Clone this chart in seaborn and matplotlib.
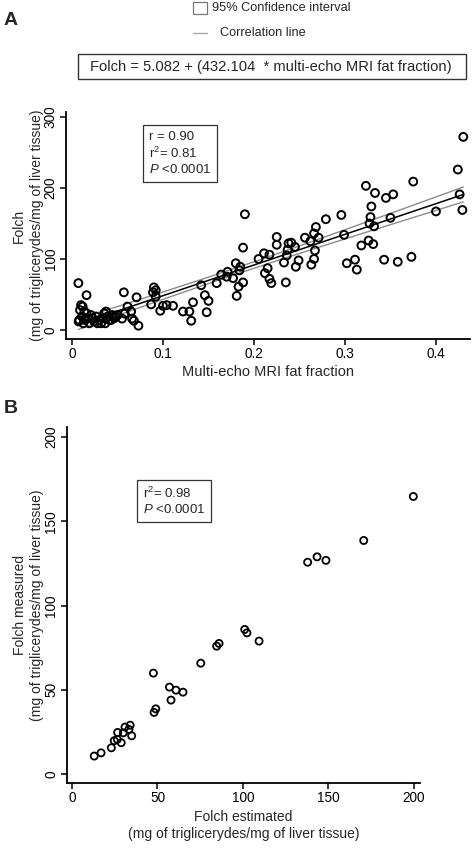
import numpy as np
import matplotlib
matplotlib.use("Agg")
import matplotlib.pyplot as plt
import seaborn as sns
from matplotlib.patches import Rectangle
from matplotlib.lines import Line2D

# panel A: multi-echo MRI fat fraction vs Folch
mri_ff = [
    0.007, 0.016, 0.0099, 0.0117, 0.0088, 0.0136, 0.0161, 0.011, 0.008, 0.0143,
    0.0172, 0.0209, 0.0227, 0.0264, 0.0073, 0.0125, 0.019, 0.0245, 0.028, 0.030,
    0.0337, 0.0355, 0.0374, 0.0392, 0.041, 0.0319, 0.0366, 0.0429, 0.0447, 0.0465,
    0.0484, 0.050,
    0.055, 0.057, 0.058, 0.061, 0.065, 0.066, 0.068, 0.071, 0.073, 0.087,
    0.089, 0.090, 0.092, 0.092, 0.097, 0.100, 0.104, 0.111, 0.122, 0.129,
    0.131, 0.133, 0.142, 0.146, 0.150, 0.148, 0.159, 0.164, 0.171, 0.170,
    0.177, 0.180, 0.185, 0.184, 0.188, 0.183, 0.181, 0.188, 0.190,
    0.205, 0.211, 0.217, 0.215, 0.212, 0.217, 0.219, 0.225, 0.225, 0.233,
    0.235, 0.236, 0.237, 0.238, 0.241, 0.245, 0.246, 0.249, 0.256, 0.262,
    0.263, 0.266, 0.267, 0.266, 0.268, 0.271, 0.279, 0.296, 0.299, 0.302,
    0.311, 0.313, 0.318, 0.326, 0.331, 0.332, 0.327, 0.328, 0.329, 0.323,
    0.333, 0.345, 0.353, 0.350, 0.343, 0.358, 0.373, 0.375, 0.400, 0.429,
    0.426, 0.424, 0.430,
]
folch_a = [
    66, 49, 35, 33, 28, 26, 23.5, 19, 14, 14,
    16.5, 21, 16.5, 19, 12, 9.4, 9.4, 12, 9.4, 14,
    16.5, 23.5, 26, 19, 14, 9.4, 9.4, 14, 21, 16.5,
    19, 21,
    16, 53, 23, 33, 26, 16, 13, 46, 6, 36,
    53, 60, 56, 47, 27, 34, 35, 34, 26, 26,
    13, 39, 63, 49, 41, 25, 66, 78, 82, 75,
    73, 94, 89, 84, 67, 61, 48, 116, 163,
    100, 108, 106, 87, 80, 72, 66, 131, 120, 95,
    67, 105, 113, 122, 123, 117, 89, 98, 130, 125,
    92, 100, 112, 136, 145, 130, 156, 162, 134, 94,
    99, 85, 119, 126, 121, 146, 150, 159, 174, 203,
    193, 186, 191, 158, 99, 96, 103, 209, 167, 169,
    191, 226, 272,
]
intercept = 5.082
slope = 432.104

# panel B: Folch estimated vs measured
folch_est = [13, 17, 23, 24.7, 26.5, 28.8, 26.7, 30, 31, 33.3, 34, 34.9, 47.6, 48, 49,
             57, 57.9, 60.8, 64.9, 75.3, 84.6, 86, 101, 102.3, 109.4, 137.8, 143.3,
             148.5, 170.6, 199.6]
folch_meas = [10.7, 12.6, 15.6, 19.8, 20.6, 18.6, 24.7, 24.5, 27.9, 26.5, 29, 22.7, 59.9,
              36.6, 38.7, 51.6, 43.9, 49.8, 48.6, 65.8, 75.9, 77.5, 85.8, 83.8, 78.9,
              125.7, 128.9, 126.8, 138.6, 164.7]

sns.set_style("ticks")
plt.rcParams["font.family"] = ["Liberation Sans", "DejaVu Sans"]
plt.rcParams["mathtext.fontset"] = "custom"
plt.rcParams["mathtext.rm"] = "Liberation Sans"
plt.rcParams["mathtext.it"] = "Liberation Sans:italic"

ylab_unit = "(mg of triglicerydes/mg of liver tissue)"

fig = plt.figure(figsize=(4.72, 8.5), dpi=100)
ax_a = fig.add_axes([0.1398, 0.6012, 0.856, 0.267])
ax_b = fig.add_axes([0.1413, 0.0788, 0.7485, 0.4188])


def style_axis(ax):
    sns.despine(ax=ax)
    for s in ["left", "bottom"]:
        ax.spines[s].set_linewidth(1.3)
        ax.spines[s].set_color("black")
    ax.tick_params(axis="both", direction="out", length=4, width=1.1,
                   labelsize=9.8, colors="black", pad=2)
    ax.tick_params(axis="y", labelrotation=90)
    for lab in ax.get_yticklabels():
        lab.set_va("center")


# ---- panel A
x = np.array(mri_ff)
y = np.array(folch_a)
sns.scatterplot(x=x, y=y, ax=ax_a, s=32, facecolors="none", edgecolor="black",
                linewidth=1.4, zorder=3)

xs = np.linspace(x.min(), x.max(), 100)
fit = intercept + slope * xs
resid = y - (intercept + slope * x)
n = len(x)
s_err = np.sqrt(np.sum(resid ** 2) / (n - 2))
half = 1.98 * s_err * np.sqrt(1 / n + (xs - x.mean()) ** 2 / np.sum((x - x.mean()) ** 2))
ax_a.plot(xs, fit, color="black", lw=1.1, zorder=2)
ax_a.plot(xs, fit + half, color="#8c8c8c", lw=1.0, zorder=2)
ax_a.plot(xs, fit - half, color="#8c8c8c", lw=1.0, zorder=2)

ax_a.set_xlim(-0.0066, 0.4374)
ax_a.set_ylim(-12.7, 307)
ax_a.set_xticks([0, 0.1, 0.2, 0.3, 0.4])
ax_a.set_xticklabels(["0", "0.1", "0.2", "0.3", "0.4"])
ax_a.set_yticks([0, 100, 200, 300])
style_axis(ax_a)
ax_a.set_xlabel("Multi-echo MRI fat fraction", fontsize=10.5, labelpad=3)
ax_a.set_ylabel("Folch\n" + ylab_unit, fontsize=10, labelpad=0, linespacing=1.35)

ax_a.text(0.205, 0.915, "r = 0.90\nr$^2$= 0.81\n$\\it{P}$ <0.0001", transform=ax_a.transAxes,
          ha="left", va="top", fontsize=9.5, linespacing=1.2,
          bbox=dict(boxstyle="square,pad=0.45", fc="white", ec="#333333", lw=0.9))

# ---- panel B
sns.scatterplot(x=folch_est, y=folch_meas, ax=ax_b, s=26, facecolors="none",
                edgecolor="black", linewidth=1.3, zorder=3)
ax_b.set_xlim(-3.1, 203.5)
ax_b.set_ylim(-5.3, 205.9)
ax_b.set_xticks([0, 50, 100, 150, 200])
ax_b.set_yticks([0, 50, 100, 150, 200])
style_axis(ax_b)
ax_b.set_xlabel("Folch estimated\n" + ylab_unit, fontsize=10, labelpad=3, linespacing=1.3)
ax_b.set_ylabel("Folch measured\n" + ylab_unit, fontsize=10, labelpad=0, linespacing=1.35)

ax_b.text(0.215, 0.835, "r$^2$= 0.98\n$\\it{P}$ <0.0001", transform=ax_b.transAxes,
          ha="left", va="top", fontsize=9.5, linespacing=1.2,
          bbox=dict(boxstyle="square,pad=0.45", fc="white", ec="#333333", lw=0.9))

# ---- panel letters, legend and equation
fig.text(0.008, 0.976, "A", fontsize=14, fontweight="bold", va="center", ha="left")
fig.text(0.008, 0.519, "B", fontsize=14, fontweight="bold", va="center", ha="left")

fig.patches.append(Rectangle((193 / 472, 1 - 14 / 850), 14 / 472, 12 / 850,
                             transform=fig.transFigure, fill=False, ec="#777777", lw=0.9))
fig.text(212 / 472, 1 - 8 / 850, "95% Confidence interval", fontsize=9.2, va="center", ha="left")
fig.lines.append(Line2D([193 / 472, 207 / 472], [1 - 33 / 850, 1 - 33 / 850],
                        transform=fig.transFigure, color="#aaaaaa", lw=1.0))
fig.text(220 / 472, 1 - 33 / 850, "Correlation line", fontsize=9.2, va="center", ha="left")

fig.patches.append(Rectangle((78 / 472, 1 - 79 / 850), 388 / 472, 25 / 850,
                             transform=fig.transFigure, fill=False, ec="#333333", lw=1.0))
fig.text(271 / 472, 1 - 67 / 850, "Folch = 5.082 + (432.104  * multi-echo MRI fat fraction)",
         fontsize=10.6, va="center", ha="center")

fig.savefig("out.png", dpi=100)
